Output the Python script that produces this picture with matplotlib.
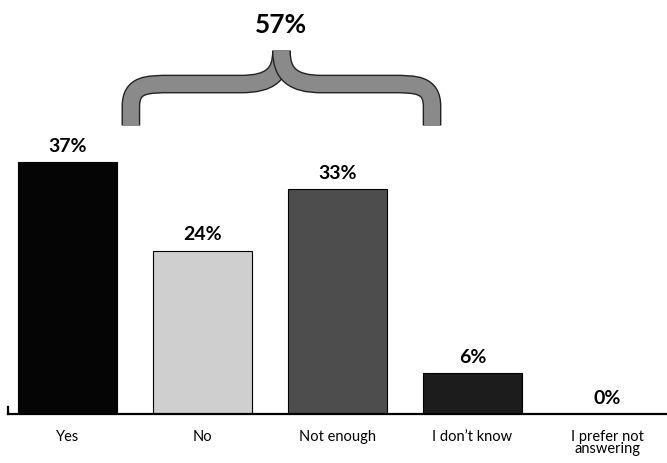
import matplotlib.pyplot as plt
from matplotlib.path import Path
from matplotlib.patches import PathPatch
import matplotlib.patheffects as pe

categories = ['Yes', 'No', 'Not enough', 'I don\u2019t know', 'I prefer not\nanswering']
values = [37, 24, 33, 6, 0]
bar_colors = ['#050505', '#cfcfcf', '#4d4d4d', '#1c1c1c', '#ffffff']
group = [1, 2]          # bars covered by the brace
group_total = '57%'

plt.rcParams['font.family'] = ['Lato', 'DejaVu Sans']

fig = plt.figure(figsize=(6.67, 4.64), dpi=100)
ax = fig.add_axes([0.012, 49 / 464, 0.988, 1 - 49 / 464])

x = list(range(len(categories)))
bars = ax.bar(x, values, width=0.73, color=bar_colors, edgecolor='black', linewidth=0.8)
bars[4].set_visible(False)

for xi, v in zip(x, values):
    ax.annotate(f'{v}%', (xi, v), xytext=(0, 6), textcoords='offset points',
                ha='center', va='bottom', fontsize=14, fontweight='bold')

ax.set_xlim(-0.44, 4.44)
ax.set_ylim(0, 61)
ax.set_xticks(x)
ax.set_xticklabels(categories, fontsize=10.5, linespacing=0.8)
ax.tick_params(axis='x', length=0, pad=11)
ax.set_yticks([])
for s in ['top', 'right']:
    ax.spines[s].set_visible(False)
ax.spines['bottom'].set_linewidth(1.6)
ax.spines['left'].set_linewidth(1.6)
ax.spines['left'].set_bounds(0, 1.1)

# curly brace over the group
x0 = group[0] - 0.53
x1 = group[1] + 0.70
xm = (x0 + x1) / 2
yb, yh, yt = 42.4, 48.5, 53.4
for d, xs in [(1, x0), (-1, x1)]:
    verts = [(xs, yb), (xs, yb + 2.8),
             (xs, yh), (xs + d * 0.12, yh), (xs + d * 0.3, yh),
             (xm - d * 0.3, yh),
             (xm - d * 0.08, yh), (xm, yh + 1.5), (xm, yt)]
    codes = [Path.MOVETO, Path.LINETO,
             Path.CURVE4, Path.CURVE4, Path.CURVE4,
             Path.LINETO,
             Path.CURVE4, Path.CURVE4, Path.CURVE4]
    p = PathPatch(Path(verts, codes), facecolor='none', edgecolor='#8a8a8a',
                  linewidth=11.5, capstyle='butt', clip_on=False,
                  path_effects=[pe.Stroke(linewidth=13.5, foreground='#222222'), pe.Normal()])
    ax.add_patch(p)
ax.text(xm, 57.3, group_total, ha='center', va='center', fontsize=19, fontweight='bold')

fig.savefig('out.png', dpi=100)
